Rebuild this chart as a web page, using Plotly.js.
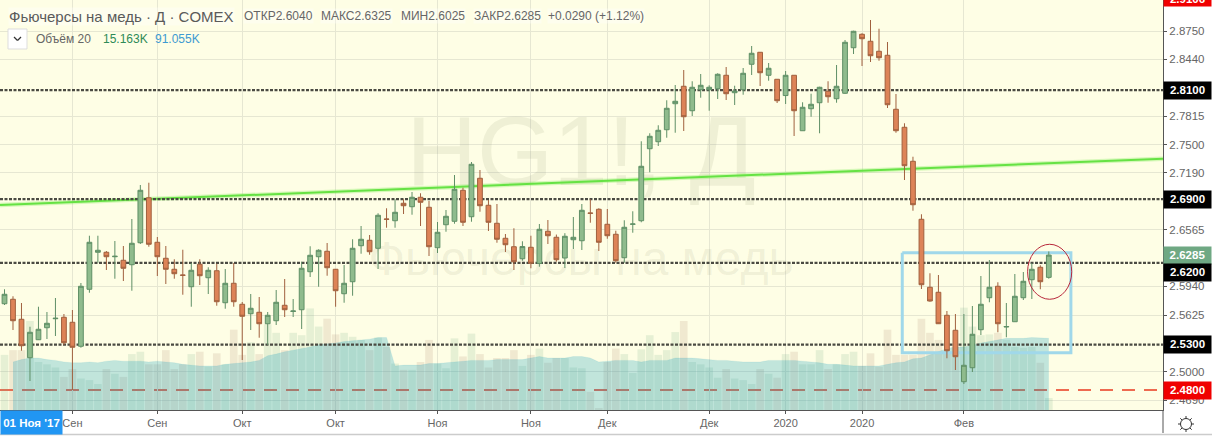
<!DOCTYPE html>
<html>
<head>
<meta charset="utf-8">
<script src="https://cdn.plot.ly/plotly-3.0.1.min.js"></script>
<style>html,body{margin:0;padding:0;background:#fff;overflow:hidden}#chart{width:1212px;height:436px}</style>
</head>
<body>
<div id="chart"></div>
<script>
const opens = [2.5750,2.5799,2.5579,2.5156,2.5354,2.5486,2.5585,2.5601,2.5546,2.5282,2.5909,2.6316,2.6316,2.6267,2.6228,2.6179,2.6421,2.6916,2.6426,2.6250,2.6129,2.6066,2.5937,2.6184,2.6036,2.6113,2.5761,2.5975,2.5744,2.5640,2.5656,2.5530,2.5563,2.5733,2.5665,2.5684,2.6102,2.6267,2.6327,2.6129,2.5860,2.5992,2.6388,2.6448,2.6360,2.6682,2.6663,2.6855,2.6817,2.6921,2.6811,2.6366,2.6619,2.6657,2.6998,2.6707,2.7130,2.6833,2.6635,2.6470,2.6377,2.6245,2.6371,2.6193,2.6547,2.6481,2.6253,2.6454,2.6443,2.6748,2.6789,2.6624,2.6514,2.6256,2.6624,2.6663,2.7455,2.7532,2.7664,2.7950,2.8142,2.7873,2.8104,2.8104,2.8115,2.8263,2.8071,2.8104,2.8384,2.8516,2.8263,2.8219,2.8040,2.8263,2.7653,2.7895,2.7961,2.8087,2.8005,2.8065,2.8566,2.8714,2.8637,2.8527,2.8483,2.7889,2.7691,2.7317,2.6679,2.5931,2.5876,2.5623,2.5458,2.4892,2.5046,2.5464,2.5816,2.5942,2.5494,2.5552,2.5816,2.6014,2.6151,2.6040];
const highs = [2.5909,2.5832,2.5758,2.5497,2.5717,2.5659,2.5813,2.5637,2.5681,2.5978,2.6498,2.6498,2.6330,2.6440,2.6385,2.6682,2.7056,2.7081,2.6484,2.6385,2.6239,2.6344,2.6198,2.6239,2.6151,2.6190,2.6132,2.6198,2.5769,2.5857,2.5824,2.5659,2.5901,2.6022,2.5802,2.6212,2.6382,2.6349,2.6418,2.6132,2.6176,2.6459,2.6605,2.6506,2.6745,2.6800,2.6899,2.6899,2.6979,2.6965,2.6880,2.6649,2.6781,2.7166,2.7026,2.7309,2.7221,2.6891,2.6847,2.6517,2.6580,2.6437,2.6498,2.6627,2.6671,2.6511,2.6526,2.6704,2.6847,2.6899,2.6800,2.6792,2.6553,2.6668,2.6767,2.7537,2.7625,2.7713,2.7988,2.8156,2.8321,2.8197,2.8277,2.8153,2.8285,2.8354,2.8148,2.8343,2.8585,2.8519,2.8398,2.8222,2.8310,2.8264,2.7966,2.8060,2.8137,2.8197,2.8376,2.8651,2.8753,2.8725,2.8871,2.8775,2.8629,2.8057,2.7735,2.7367,2.6734,2.6085,2.6066,2.5670,2.5637,2.5637,2.5725,2.6055,2.6231,2.5986,2.5758,2.6077,2.6099,2.6198,2.6173,2.6325];
const lows = [2.5736,2.5461,2.5233,2.4900,2.5351,2.5362,2.5395,2.5296,2.4801,2.5266,2.5871,2.6201,2.6121,2.6025,2.6000,2.5893,2.6407,2.6377,2.6055,2.5967,2.6025,2.5849,2.5717,2.5956,2.5857,2.5728,2.5695,2.5717,2.5131,2.5461,2.5376,2.5296,2.5516,2.5604,2.5604,2.5472,2.6044,2.5937,2.6058,2.5717,2.5761,2.5838,2.6300,2.6289,2.6132,2.6586,2.6586,2.6737,2.6729,2.6605,2.6275,2.6308,2.6542,2.6630,2.6605,2.6652,2.6762,2.6550,2.6421,2.6319,2.6121,2.6223,2.6140,2.6157,2.6407,2.6212,2.6143,2.6352,2.6341,2.6641,2.6330,2.6465,2.6201,2.6201,2.6531,2.6646,2.7196,2.7485,2.7576,2.7631,2.7650,2.7815,2.8016,2.7873,2.8002,2.7991,2.7936,2.8049,2.8266,2.8145,2.8203,2.7958,2.7947,2.7595,2.7652,2.7807,2.7625,2.7961,2.7961,2.8057,2.8497,2.8365,2.8409,2.8423,2.7903,2.7631,2.7111,2.6773,2.5912,2.5772,2.5527,2.5150,2.5021,2.4867,2.4999,2.5406,2.5766,2.5436,2.5381,2.5551,2.5791,2.5802,2.5909,2.6025];
const closes = [2.5854,2.5563,2.5288,2.5436,2.5469,2.5535,2.5590,2.5321,2.5271,2.5942,2.6426,2.6338,2.6267,2.6272,2.6140,2.6415,2.6998,2.6404,2.6267,2.6129,2.6080,2.6063,2.6118,2.6058,2.6118,2.5772,2.5975,2.5772,2.5612,2.5700,2.5530,2.5623,2.5766,2.5684,2.5670,2.6140,2.6283,2.6338,2.6146,2.5893,2.5975,2.6360,2.6459,2.6322,2.6723,2.6679,2.6756,2.6828,2.6921,2.6866,2.6377,2.6536,2.6712,2.7009,2.6646,2.7284,2.6828,2.6646,2.6459,2.6399,2.6212,2.6379,2.6195,2.6569,2.6498,2.6234,2.6492,2.6481,2.6778,2.6745,2.6426,2.6498,2.6223,2.6591,2.6627,2.7262,2.7592,2.7658,2.7900,2.7977,2.7807,2.8131,2.8153,2.8131,2.8274,2.8060,2.8090,2.8285,2.8505,2.8291,2.8340,2.7983,2.8263,2.7873,2.7911,2.7944,2.8131,2.8027,2.8142,2.8626,2.8747,2.8665,2.8478,2.8456,2.7939,2.7653,2.7268,2.6839,2.5959,2.5780,2.5530,2.5233,2.5167,2.5073,2.5414,2.5744,2.5931,2.5530,2.5499,2.5832,2.5997,2.6129,2.5992,2.6285];
const volumes = [70,76,76,113,61,58,54,42,52,40,38,33,52,46,42,71,74,58,58,76,52,58,71,74,55,72,58,102,70,86,71,109,98,76,98,95,129,106,116,96,98,93,89,76,92,80,59,51,51,61,89,59,53,91,68,97,71,54,66,66,76,56,70,78,60,66,66,54,53,23,2.5,61,78,71,47,77,95,70,76,99,113,61,58,54,41,52,40,38,33,52,46,41,71,74,58,58,76,52,58,71,74,56,72,55,102,70,70,70,116,98,89,74,80,130,106,95,96,98,89,80,79,80,60,15.163];
const volumeMA = [null,61,64,66,66,64,63,61,60,60,61,60,62,63,62,62,62,61,62,61,60,58,57,56,56,56,58,59,60,61,63,69,71,74,76,78,80,83,84,85,87,88,89,90,92,92,56,57,57,57,59,59,60,61,62,63,63,63,64,64,64,64,66,68,66,66,66,68,68,66,61,62,63,63,63,61,63,63,63,66,66,66,65,64,63,63,62,61,61,61,63,63,63,63,62,61,60,58,58,57,56,56,56,56,58,60,61,65,66,70,73,78,80,80,82,85,87,89,91,91,91,92,92,91.055];
const xTickVals = [8,18,28,39,51,62,71,83,92,101,113];
const xTickText = ['Сен','Сен','Окт','Окт','Ноя','Ноя','Дек','Дек','2020','2020','Фев'];
const yTickVals = [2.875,2.844,2.7815,2.75,2.719,2.6565,2.594,2.5625,2.5,2.469];
const yTickText = ['2.8750','2.8440','2.7815','2.7500','2.7190','2.6565','2.5940','2.5625','2.5000','2.4690'];
const levelPrices = [2.81,2.69,2.62,2.53];
const supportPrice = 2.48;
const trendX = [-0.53,136.45];
const trendY = [2.6836,2.7345];
const boxX = [105.74,125.6];
const boxY = [2.5211,2.6310];
const ellipseX = [120.5,125.7];
const ellipseY = [2.5799,2.6404];

const idx = opens.map((_, i) => i);
const FONT = 'Liberation Sans, Arial, sans-serif';
const PW = 1163, PH = 410;
const X = p => p / PW, Y = p => 1 - p / PH;
const xRange = [-0.53, 136.45];
const priceRange = [2.4581, 2.9091];

const traces = [
  {type:'bar', x:idx, y:volumes, xaxis:'x', yaxis:'y', width:0.9, hoverinfo:'skip',
   marker:{color:idx.map(i => closes[i] >= opens[i] ? 'rgba(110,170,130,0.17)' : 'rgba(174,130,105,0.17)'), line:{width:0}}},
  {type:'scatter', mode:'lines', x:idx, y:volumeMA, xaxis:'x', yaxis:'y', fill:'tozeroy', hoverinfo:'skip',
   fillcolor:'rgba(0,150,190,0.24)', line:{width:0.5, color:'rgba(0,150,190,0.15)'}},
  {type:'scatter', mode:'text', x:[67.9], y:[2.7331], xaxis:'x', yaxis:'y2', text:['HG1!, Д'], hoverinfo:'skip',
   textposition:'middle center', textfont:{family:FONT, size:98, color:'rgba(120,125,90,0.11)'}},
  {type:'scatter', mode:'text', x:[67.9], y:[2.6198], xaxis:'x', yaxis:'y2', text:['Фьючерсы на медь'], hoverinfo:'skip',
   textposition:'middle center', textfont:{family:FONT, size:48, color:'rgba(120,125,90,0.11)'}},
  {type:'scatter', mode:'lines', x:trendX, y:trendY, xaxis:'x', yaxis:'y2', hoverinfo:'skip',
   line:{color:'rgba(110,235,70,0.28)', width:4.5}},
  {type:'scatter', mode:'lines', x:trendX, y:trendY, xaxis:'x', yaxis:'y2', hoverinfo:'skip',
   line:{color:'#66e244', width:2}},
  ...levelPrices.map(p => ({type:'scatter', mode:'lines', x:xRange, y:[p,p], xaxis:'x', yaxis:'y2', hoverinfo:'skip',
   line:{color:'#4a4a42', width:2.3, dash:'3px,1.5px'}})),
  {type:'scatter', mode:'lines', xaxis:'x', yaxis:'y2', hoverinfo:'skip',
   x:[boxX[0],boxX[1],boxX[1],boxX[0],boxX[0]], y:[boxY[1],boxY[1],boxY[0],boxY[0],boxY[1]],
   line:{color:'#a0d8ea', width:3}},
  {type:'candlestick', x:idx, open:opens, high:highs, low:lows, close:closes, xaxis:'x', yaxis:'y3', hoverinfo:'skip',
   whiskerwidth:0,
   increasing:{line:{color:'#5f8f66', width:1}, fillcolor:'#8fbb8d'},
   decreasing:{line:{color:'#a0603e', width:1}, fillcolor:'#dd8357'}}
];

const annotations = [];
function txt(text, px, py, size, color, extra) {
  annotations.push(Object.assign({text, xref:'paper', yref:'paper', x:X(px), y:Y(py), xanchor:'left', yanchor:'middle',
    showarrow:false, font:{family:FONT, size, color}, borderpad:0}, extra || {}));
}
txt('Фьючерсы на медь · Д · COMEX', 8, 16, 15, '#5a5a5a', {bgcolor:'rgba(255,255,255,0.35)'});
txt('ОТКР2.6040', 243, 16, 12, '#666', {bgcolor:'rgba(255,255,255,0.35)'});
txt('МАКС2.6325', 320, 16, 12, '#666', {bgcolor:'rgba(255,255,255,0.35)'});
txt('МИН2.6025', 400, 16, 12, '#666', {bgcolor:'rgba(255,255,255,0.35)'});
txt('ЗАКР2.6285', 473, 16, 12, '#666', {bgcolor:'rgba(255,255,255,0.35)'});
txt('+0.0290 (+1.12%)', 547, 16, 12, '#666', {bgcolor:'rgba(255,255,255,0.35)'});
txt('Объём 20', 35, 39, 12, '#666');
txt('15.163K', 102, 39, 12, '#2e8b57');
txt('91.055K', 154, 39, 12, '#3d9ad1');

function priceLabel(p, label, bg, shift) {
  annotations.push({text:'<b>'+label+'</b>', xref:'paper', yref:'y2', x:1, y:p, xanchor:'left', yanchor:'middle', yshift:shift||0,
    showarrow:false, align:'center', width:47, height:16.5, borderpad:0, bgcolor:bg, font:{family:FONT, size:11.5, color:'#fff'}});
}
priceLabel(2.81,'2.8100','#000');
priceLabel(2.69,'2.6900','#000');
priceLabel(2.6285,'2.6285','#6fa883');
priceLabel(2.62,'2.6200','#000',-10);
priceLabel(2.53,'2.5300','#000');
priceLabel(2.48,'2.4800','#f00000');
annotations.push({text:'<b>2.9106</b>', xref:'paper', yref:'y2', x:1, y:2.9091, xanchor:'left', yanchor:'middle', yshift:1,
  showarrow:false, width:47, height:14, borderpad:0, bgcolor:'#f00000', font:{family:FONT, size:11.5, color:'#fff'}});
annotations.push({text:"<b>01 Ноя '17</b>", xref:'paper', yref:'paper', x:X(0), y:Y(422), xanchor:'left', yanchor:'middle',
  showarrow:false, width:61, height:23, borderpad:0, bgcolor:'#2196f3', font:{family:FONT, size:11.5, color:'#fff'}});

const line = (x0,y0,x1,y1,c,w) => ({type:'line', xref:'paper', yref:'paper', x0:X(x0), y0:Y(y0), x1:X(x1), y1:Y(y1), line:{color:c, width:w}});
const shapes = [
  {type:'line', layer:'between', xref:'paper', yref:'y2', x0:0, x1:1, y0:supportPrice, y1:supportPrice, line:{color:'#ee6a50', width:2, dash:'13px,9px'}},
  {type:'circle', xref:'x', yref:'y2', x0:ellipseX[0], x1:ellipseX[1], y0:ellipseY[0], y1:ellipseY[1], line:{color:'#b8283c', width:1}},
  line(1163,410,1163,433,'#555',1),
  line(0,434.5,1212,434.5,'#ccc',1.5),
  {type:'rect', xref:'paper', yref:'paper', x0:X(8), x1:X(27), y0:Y(29), y1:Y(49), fillcolor:'#fff', line:{color:'#ddd', width:1}},
  line(14,37,17.5,40.5,'#333',1.3), line(17.5,40.5,21,37,'#333',1.3),
  {type:'circle', xref:'paper', yref:'paper', x0:X(1180.5), x1:X(1191.5), y0:Y(418.5), y1:Y(429.5), line:{color:'#333', width:1}}
];
[[0,-8,0,-5.5],[0,5.5,0,8],[-8,0,-5.5,0],[5.5,0,8,0],[-5.7,-5.7,-3.9,-3.9],[3.9,3.9,5.7,5.7],[-5.7,5.7,-3.9,3.9],[3.9,-3.9,5.7,-5.7]]
  .forEach(s => shapes.push(line(1186+s[0],424+s[1],1186+s[2],424+s[3],'#333',1)));

const layout = {
  width:1212, height:436, margin:{l:0, r:49, t:0, b:26, pad:0},
  paper_bgcolor:'#fff', plot_bgcolor:'#fefee5', showlegend:false, hovermode:false, boxgap:0.2,
  xaxis:{range:xRange, tickmode:'array', tickvals:xTickVals, ticktext:xTickText, ticks:'outside', ticklen:3, tickcolor:'#555', tickwidth:1,
    showgrid:true, gridcolor:'#e6e7d2', gridwidth:1, zeroline:false, showline:true, linecolor:'#555', linewidth:1,
    tickfont:{family:FONT, size:11, color:'#666'}, rangeslider:{visible:false}, fixedrange:true},
  yaxis:{range:[0,520.7], visible:false, showgrid:false, zeroline:false, fixedrange:true},
  yaxis2:{range:priceRange, overlaying:'y', side:'right', tickmode:'array', tickvals:yTickVals, ticktext:yTickText, ticks:'outside', ticklen:3, tickcolor:'#555',
    showgrid:true, gridcolor:'#e6e7d2', gridwidth:1, zeroline:false, showline:true, linecolor:'#555', linewidth:1,
    tickfont:{family:FONT, size:11.5, color:'#666'}, fixedrange:true},
  yaxis3:{range:priceRange, overlaying:'y', visible:false, showgrid:false, zeroline:false, fixedrange:true},
  annotations, shapes
};
Plotly.newPlot('chart', traces, layout, {displayModeBar:false, staticPlot:true});
</script>
</body>
</html>
